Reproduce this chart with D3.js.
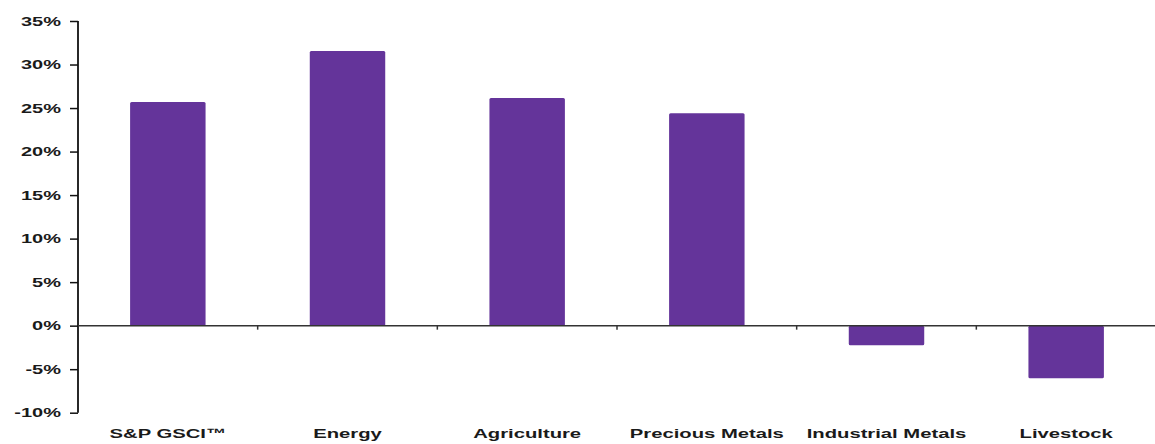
<!DOCTYPE html>
<html><head><meta charset="utf-8">
<script src="https://cdn.jsdelivr.net/npm/d3@7"></script>
<style>body{margin:0;background:#fff}svg{display:block}text{font-family:"Liberation Sans",Arial,sans-serif;fill:#1a1a1a}</style>
</head><body><svg id="c" width="1155" height="444"></svg>
<script>
const categories = ["S&P GSCI\u2122","Energy","Agriculture","Precious Metals","Industrial Metals","Livestock"];
const values = [25.7, 31.55, 26.15, 24.4, -2.25, -6.05];
const yTicks = [-10,-5,0,5,10,15,20,25,30,35];

const svg = d3.select("#c");
const x = d3.scaleBand().domain(categories).range([78,1156]).paddingInner(0.58).paddingOuter(0.29);
const xb = d3.scaleBand().domain(categories).range([78,1156]);
const y = d3.scaleLinear().domain([-10,35]).range([412.7,21]);
const barColor = "#64349a";

// bars
svg.append("g").selectAll("rect").data(values).join("rect")
  .attr("x",(d,i)=>x(categories[i]))
  .attr("width",x.bandwidth())
  .attr("y",d=>y(Math.max(0,d)))
  .attr("height",d=>Math.abs(y(d)-y(0)))
  .attr("rx",1.5)
  .attr("fill",barColor);

// y axis
const ya = svg.append("g").attr("transform","translate(78,0)")
  .call(d3.axisLeft(y).tickValues(yTicks).tickSize(8).tickFormat(d=>d+"%"));
ya.select(".domain").attr("stroke","#111").attr("stroke-width",1.8).attr("d","M0,"+y(35)+"V"+y(-10));
ya.selectAll(".tick line").attr("stroke","#111").attr("stroke-width",1.5);
ya.selectAll(".tick text").attr("x",0).attr("font-size",12.5).attr("font-weight","bold").attr("fill","#222")
  .attr("text-anchor","end")
  .attr("transform","translate(-17,0) scale(1.6,1)");

// zero line + category ticks
const xa = svg.append("g").attr("transform","translate(0,"+y(0)+")");
xa.append("line").attr("x1",78).attr("x2",1155).attr("stroke","#333").attr("stroke-width",1.5);
xa.selectAll(".ct").data(categories.slice(1).concat(["end"])).join("line")
  .attr("x1",(d,i)=>xb(categories[i])+xb.bandwidth()).attr("x2",(d,i)=>xb(categories[i])+xb.bandwidth())
  .attr("y1",0).attr("y2",4).attr("stroke","#333").attr("stroke-width",1.5);

// category labels
svg.append("g").selectAll("text").data(categories).join("text")
  .attr("transform",d=>"translate("+(xb(d)+xb.bandwidth()/2)+",438) scale(1.5,1)")
  .attr("text-anchor","middle").attr("font-size",13.5).attr("font-weight","bold")
  .text(d=>d);
</script></body></html>
